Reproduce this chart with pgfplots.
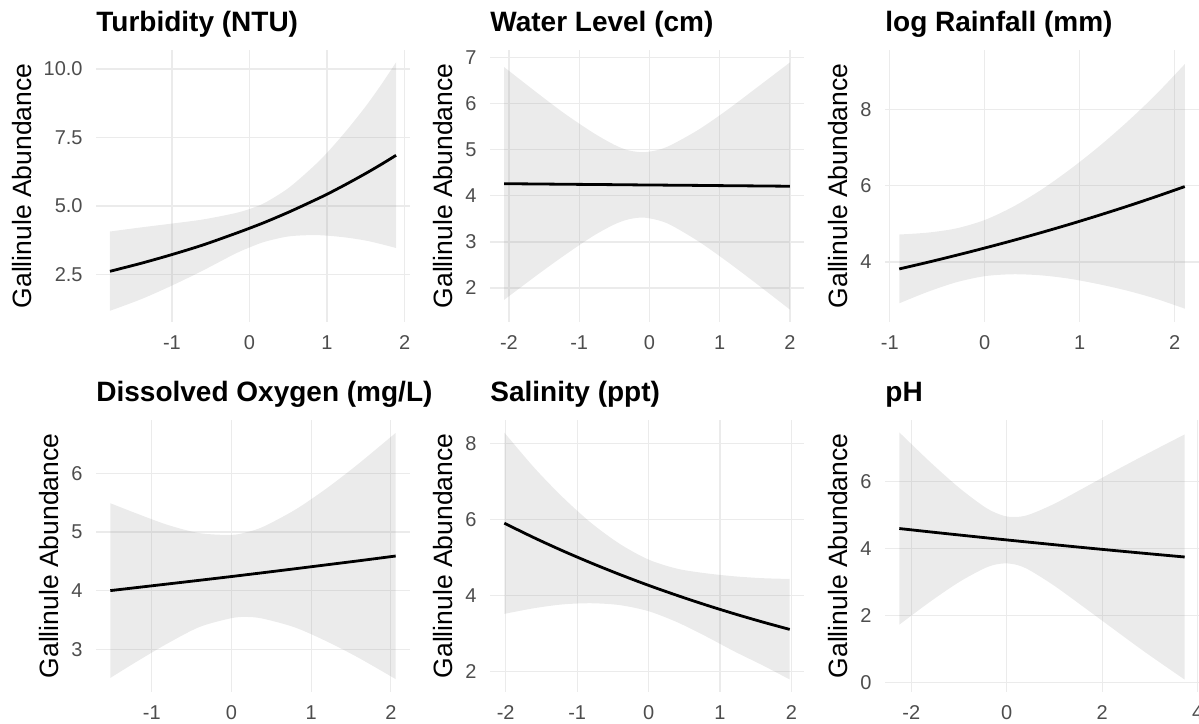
\documentclass[border=0pt]{standalone}
\usepackage{fontspec}
\setmainfont{Liberation Sans}
\usepackage{pgfplots}
\pgfplotsset{compat=1.18}
\usepackage{pgfplotstable}
\usepgfplotslibrary{fillbetween}

\definecolor{gridgrey}{HTML}{EBEBEB}
\definecolor{ticktext}{HTML}{4D4D4D}
\definecolor{bandgrey}{HTML}{999999}

% x, fitted mean, lower and upper band
\pgfplotstableread{
x mu lo hi
-1.80 2.62 1.18 4.07
-1.40 2.91 1.60 4.22
-1.00 3.23 2.10 4.36
-0.60 3.58 2.65 4.51
-0.20 3.98 3.24 4.73
0.00 4.19 3.49 4.89
0.20 4.41 3.70 5.12
0.50 4.77 3.89 5.65
0.80 5.16 3.94 6.38
1.00 5.43 3.92 6.94
1.25 5.80 3.85 7.75
1.50 6.19 3.74 8.64
1.70 6.52 3.61 9.43
1.89 6.85 3.47 10.24
}\turb

\pgfplotstableread{
x mu lo hi
-2.07 4.265 1.74 6.80
-1.60 4.259 2.28 6.24
-1.20 4.253 2.72 5.78
-0.80 4.248 3.13 5.37
-0.50 4.244 3.38 5.11
-0.30 4.241 3.49 4.99
-0.10 4.238 3.53 4.95
0.10 4.236 3.48 4.99
0.30 4.233 3.37 5.10
0.70 4.228 3.01 5.44
1.10 4.222 2.58 5.86
1.50 4.217 2.12 6.32
2.00 4.210 1.53 6.90
}\water

\pgfplotstableread{
x mu lo hi
-0.90 3.819 2.92 4.72
-0.60 3.993 3.22 4.77
-0.30 4.176 3.47 4.88
0.00 4.367 3.63 5.10
0.30 4.566 3.68 5.45
0.60 4.775 3.65 5.90
0.90 4.993 3.56 6.43
1.20 5.222 3.42 7.02
1.50 5.460 3.25 7.67
1.80 5.710 3.04 8.38
2.105 5.975 2.78 9.18
}\rain

\pgfplotstableread{
x mu lo hi
-1.52 4.000 2.51 5.49
-1.20 4.050 2.78 5.32
-0.80 4.113 3.10 5.12
-0.40 4.176 3.38 4.98
0.00 4.240 3.53 4.95
0.20 4.273 3.55 5.00
0.40 4.306 3.52 5.09
0.80 4.373 3.37 5.38
1.20 4.441 3.13 5.75
1.60 4.509 2.85 6.17
2.06 4.590 2.49 6.69
}\oxy

\pgfplotstableread{
x mu lo hi
-2.02 5.900 3.51 8.29
-1.60 5.514 3.66 7.36
-1.20 5.170 3.76 6.58
-0.80 4.848 3.79 5.90
-0.40 4.545 3.74 5.35
0.00 4.261 3.58 4.94
0.40 3.996 3.29 4.70
0.80 3.746 2.92 4.58
1.20 3.512 2.52 4.50
1.60 3.293 2.15 4.45
1.975 3.100 1.78 4.43
}\sal

\pgfplotstableread{
x mu lo hi
-2.25 4.600 1.73 7.47
-1.60 4.499 2.42 6.58
-1.00 4.408 3.00 5.82
-0.50 4.333 3.39 5.28
-0.25 4.296 3.52 5.08
0.00 4.260 3.56 4.96
0.25 4.224 3.50 4.95
0.50 4.188 3.34 5.03
1.00 4.117 2.89 5.34
1.60 4.033 2.27 5.80
2.20 3.951 1.64 6.27
2.90 3.858 0.91 6.80
3.73 3.750 0.09 7.41
}\ph

\pgfplotsset{
  gg/.style={
    scale only axis, width=157pt, height=136pt,
    anchor=north west,
    axis line style={draw=none},
    major tick length=0pt,
    grid=major,
    major grid style={gridgrey, line width=0.6pt},
    tick label style={font=\fontsize{10}{12}\selectfont, text=ticktext},
    /pgf/number format/assume math mode=true,
    xticklabel style={inner sep=0pt},
    yticklabel style={inner sep=0pt},
    xticklabel shift=6.5pt,
    yticklabel shift=6.5pt,
    ylabel={Gallinule Abundance},
    ylabel style={font=\fontsize{13.25}{15}\selectfont, inner sep=0pt},
    ylabel shift=6pt,
    title style={font=\bfseries\fontsize{14}{16}\selectfont,
      at={(0,1)}, anchor=base west, yshift=3.5pt, inner sep=0pt},
  },
  band/.style={fill=bandgrey, fill opacity=0.2, draw=none},
  fit/.style={black, line width=1.4pt, smooth, no markers},
  edge/.style={draw=none, smooth, no markers},
}

\begin{document}
\begin{tikzpicture}

\begin{axis}[gg, at={(48pt,-25pt)}, title={Turbidity (NTU)},
  xmin=-1.98, xmax=2.07, ymin=0.77, ymax=10.69,
  xtick={-1,0,1,2}, ytick={2.5,5,7.5,10},
  yticklabels={2.5,5.0,7.5,10.0}]
\addplot[edge, name path=up] table[x=x, y=hi] {\turb};
\addplot[edge, name path=lo] table[x=x, y=lo] {\turb};
\addplot[band] fill between[of=up and lo];
\addplot[fit] table[x=x, y=mu] {\turb};
\end{axis}

\begin{axis}[gg, at={(245pt,-25pt)}, title={Water Level (cm)},
  xmin=-2.27, xmax=2.20, ymin=1.26, ymax=7.17,
  xtick={-2,-1,0,1,2}, ytick={2,3,4,5,6,7}]
\addplot[edge, name path=up] table[x=x, y=hi] {\water};
\addplot[edge, name path=lo] table[x=x, y=lo] {\water};
\addplot[band] fill between[of=up and lo];
\addplot[fit] table[x=x, y=mu] {\water};
\end{axis}

\begin{axis}[gg, at={(442.5pt,-25pt)}, title={log Rainfall (mm)},
  xmin=-1.05, xmax=2.255, ymin=2.43, ymax=9.55,
  xtick={-1,0,1,2}, ytick={4,6,8}]
\addplot[edge, name path=up] table[x=x, y=hi] {\rain};
\addplot[edge, name path=lo] table[x=x, y=lo] {\rain};
\addplot[band] fill between[of=up and lo];
\addplot[fit] table[x=x, y=mu] {\rain};
\end{axis}

\begin{axis}[gg, at={(48pt,-210pt)}, title={Dissolved Oxygen (mg/L)},
  xmin=-1.70, xmax=2.24, ymin=2.27, ymax=6.91,
  xtick={-1,0,1,2}, ytick={3,4,5,6}]
\addplot[edge, name path=up] table[x=x, y=hi] {\oxy};
\addplot[edge, name path=lo] table[x=x, y=lo] {\oxy};
\addplot[band] fill between[of=up and lo];
\addplot[fit] table[x=x, y=mu] {\oxy};
\end{axis}

\begin{axis}[gg, at={(245pt,-210pt)}, title={Salinity (ppt)},
  xmin=-2.22, xmax=2.175, ymin=1.45, ymax=8.62,
  xtick={-2,-1,0,1,2}, ytick={2,4,6,8}]
\addplot[edge, name path=up] table[x=x, y=hi] {\sal};
\addplot[edge, name path=lo] table[x=x, y=lo] {\sal};
\addplot[band] fill between[of=up and lo];
\addplot[fit] table[x=x, y=mu] {\sal};
\end{axis}

\begin{axis}[gg, at={(442.5pt,-210pt)}, title={pH},
  xmin=-2.55, xmax=4.03, ymin=-0.28, ymax=7.84,
  xtick={-2,0,2,4}, ytick={0,2,4,6}]
\addplot[edge, name path=up] table[x=x, y=hi] {\ph};
\addplot[edge, name path=lo] table[x=x, y=lo] {\ph};
\addplot[band] fill between[of=up and lo];
\addplot[fit] table[x=x, y=mu] {\ph};
\end{axis}

\pgfresetboundingbox
\path[use as bounding box] (0,0) rectangle (599.5pt,-361.5pt);
\end{tikzpicture}
\end{document}
